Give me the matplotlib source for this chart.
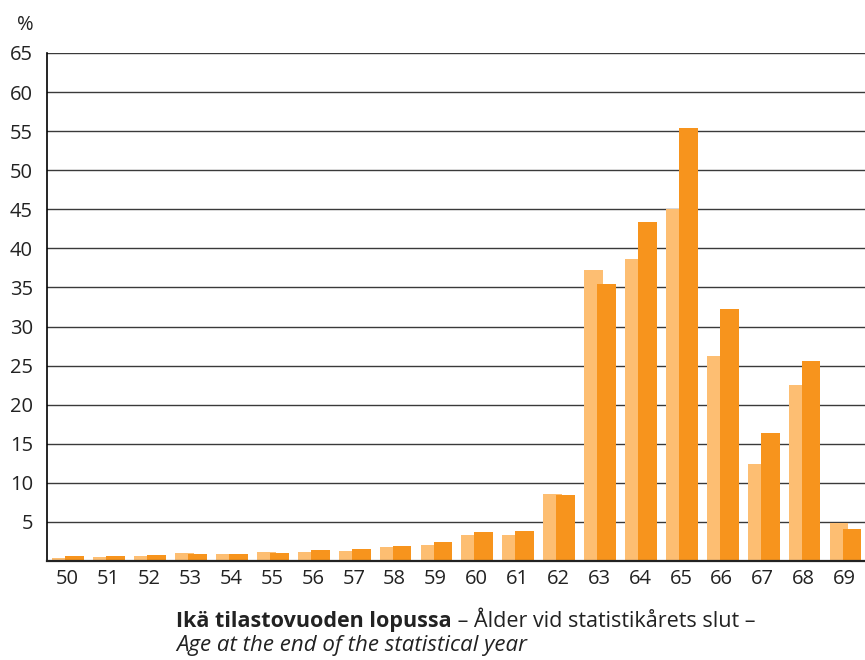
import matplotlib.pyplot as plt
import numpy as np

# Age at end of the statistical year, share (%) for two series
ages = [50, 51, 52, 53, 54, 55, 56, 57, 58, 59,
        60, 61, 62, 63, 64, 65, 66, 67, 68, 69]
light_vals = [0.4, 0.5, 0.7, 1.0, 0.9, 1.2, 1.2, 1.3, 1.8, 2.0,
              3.3, 3.3, 8.6, 37.2, 38.6, 45.1, 26.2, 12.4, 22.5, 4.9]
dark_vals = [0.7, 0.7, 0.8, 0.9, 0.9, 1.0, 1.4, 1.5, 1.9, 2.4,
             3.7, 3.9, 8.5, 35.4, 43.4, 55.4, 32.3, 16.4, 25.6, 4.1]
y_ticks = [5, 10, 15, 20, 25, 30, 35, 40, 45, 50, 55, 60, 65]

LIGHT = '#FDBE72'
DARK = '#F7941D'
TXT = '#222222'

plt.rcParams['font.family'] = ['Open Sans', 'DejaVu Sans']

fig = plt.figure(figsize=(8.65, 6.6), dpi=100)
ax = fig.add_axes([47 / 865, 1 - 561 / 660, 1 - 47 / 865, (561 - 53) / 660])

x = np.arange(len(ages))
ax.bar(x - 0.366, light_vals, width=0.46, align='edge', color=LIGHT, zorder=3)
ax.bar(x - 0.05, dark_vals, width=0.46, align='edge', color=DARK, zorder=4)

ax.set_xlim(-0.5, len(ages) - 0.5)
ax.set_ylim(0, 65)
ax.set_yticks(y_ticks)
ax.set_xticks(x)
ax.set_xticklabels([str(a) for a in ages])
ax.yaxis.grid(True, color='#3a3a3a', linewidth=1.0, zorder=1)
ax.set_axisbelow(True)

for s in ['top', 'right']:
    ax.spines[s].set_visible(False)
ax.spines['left'].set_color('black')
ax.spines['left'].set_linewidth(1.2)
ax.spines['bottom'].set_color(TXT)
ax.spines['bottom'].set_linewidth(1.6)
ax.spines['bottom'].set_zorder(5)

ax.tick_params(axis='both', length=0, labelsize=14.5, colors=TXT)
ax.tick_params(axis='y', pad=10)
ax.tick_params(axis='x', pad=6)

fig.text(25 / 865, 1 - 25 / 660, '%', ha='center', va='center',
         fontsize=14.5, color=TXT)

# axis title: bold Finnish, regular Swedish, italic English
t1 = fig.text(176 / 865, 1 - 627 / 660, 'Ikä tilastovuoden lopussa',
              ha='left', va='baseline', fontsize=15.5, fontweight='bold',
              color=TXT)
ax.annotate(' – Ålder vid statistikårets slut –', xy=(1, 0), xycoords=t1,
            ha='left', va='bottom', fontsize=15.5, color=TXT,
            annotation_clip=False)
fig.text(176 / 865, 1 - 651 / 660, 'Age at the end of the statistical year',
         ha='left', va='baseline', fontsize=16, fontstyle='italic',
         color=TXT)

plt.savefig('out.png', dpi=100)
